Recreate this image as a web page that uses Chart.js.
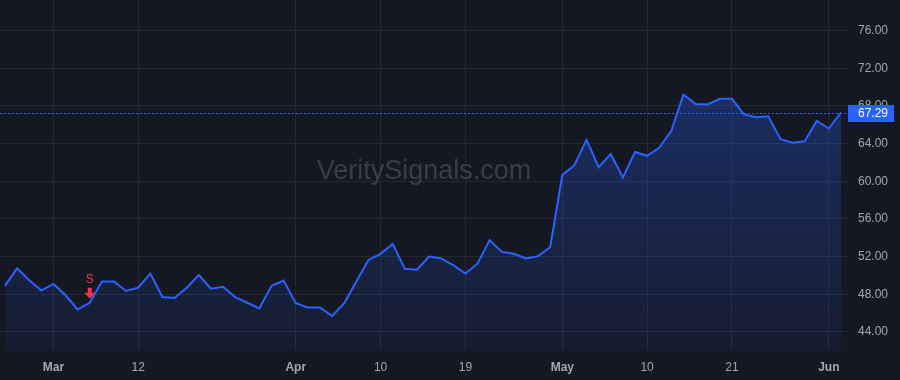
<!DOCTYPE html>
<html>
<head>
<meta charset="utf-8">
<script src="https://cdn.jsdelivr.net/npm/chart.js@4.4.1/dist/chart.umd.min.js"></script>
<style>
  html, body { margin: 0; padding: 0; background: #151822; }
  #wrap { width: 900px; height: 380px; position: relative; }
</style>
</head>
<body>
<div id="wrap"><canvas id="priceChart"></canvas></div>
<script>
  // trading days, Feb 26 - Jun 4 2024
  const dates = [
    '2024-02-26','2024-02-27','2024-02-28','2024-02-29',
    '2024-03-01','2024-03-04','2024-03-05','2024-03-06','2024-03-07','2024-03-08',
    '2024-03-11','2024-03-12','2024-03-13','2024-03-14','2024-03-15',
    '2024-03-18','2024-03-19','2024-03-20','2024-03-21','2024-03-22',
    '2024-03-25','2024-03-26','2024-03-27','2024-03-28',
    '2024-04-01','2024-04-02','2024-04-03','2024-04-04','2024-04-05',
    '2024-04-08','2024-04-09','2024-04-10','2024-04-11','2024-04-12',
    '2024-04-15','2024-04-16','2024-04-17','2024-04-18','2024-04-19',
    '2024-04-22','2024-04-23','2024-04-24','2024-04-25','2024-04-26',
    '2024-04-29','2024-04-30','2024-05-01','2024-05-02','2024-05-03',
    '2024-05-06','2024-05-07','2024-05-08','2024-05-09','2024-05-10',
    '2024-05-13','2024-05-14','2024-05-15','2024-05-16','2024-05-17',
    '2024-05-20','2024-05-21','2024-05-22','2024-05-23','2024-05-24',
    '2024-05-28','2024-05-29','2024-05-30','2024-05-31',
    '2024-06-03','2024-06-04'
  ];

  const prices = [
    48.9, 50.75, 49.5, 48.4,
    49.1, 47.9, 46.4, 47.1, 49.35,
    49.35, 48.35, 48.7, 50.2, 47.7,
    47.6, 48.7, 50.05, 48.6, 48.8,
    47.7, 47.1, 46.5, 48.9,
    49.45, 47.05, 46.6, 46.6, 45.7,
    47.05, 49.35, 51.65, 52.3, 53.35,
    50.7, 50.6, 52.0, 51.8, 51.1,
    50.2, 51.25, 53.75, 52.5, 52.3,
    51.8, 52.05, 53.0, 60.65, 61.7,
    64.4, 61.5, 62.9, 60.4, 63.1,
    62.7, 63.55, 65.35, 69.2, 68.2,
    68.15, 68.75, 68.75, 67.1, 66.8,
    66.9, 64.5, 64.1, 64.25, 66.4,
    65.6, 67.29
  ];

  const xTickDates = ['2024-03-01','2024-03-12','2024-04-01','2024-04-10','2024-04-19','2024-05-01','2024-05-10','2024-05-21','2024-06-03'];
  const xTickLabels = ['Mar','12','Apr','10','19','May','10','21','Jun'];
  const monthLabels = ['Mar','Apr','May','Jun'];
  const yTicks = [44, 48, 52, 56, 60, 64, 68, 72, 76];

  const signalDate = '2024-03-06';
  const signalText = 'S';
  const lastPrice = prices[prices.length - 1];

  const lineColor = '#2962ff';
  const font = '"Liberation Sans", Arial, sans-serif';

  const xTickIdx = xTickDates.map(d => dates.indexOf(d));

  // watermark, last price line + label, sell marker
  const overlay = {
    id: 'overlay',
    beforeDatasetsDraw(chart) {
      const { ctx } = chart;
      ctx.save();
      ctx.font = '27px ' + font;
      ctx.fillStyle = '#3a3d48';
      ctx.textAlign = 'center';
      ctx.textBaseline = 'middle';
      ctx.fillText('VeritySignals.com', 424, 172);
      ctx.restore();
    },
    afterDraw(chart) {
      const { ctx, chartArea, scales } = chart;
      const y = Math.round(scales.y.getPixelForValue(lastPrice));
      ctx.save();
      ctx.strokeStyle = lineColor;
      ctx.lineWidth = 1;
      ctx.setLineDash([2, 2]);
      ctx.beginPath();
      ctx.moveTo(chartArea.left, y + 0.5);
      ctx.lineTo(chartArea.right, y + 0.5);
      ctx.stroke();
      ctx.setLineDash([]);
      ctx.fillStyle = lineColor;
      ctx.fillRect(chartArea.right, y - 8, 46, 17);
      ctx.fillStyle = '#ffffff';
      ctx.font = '12px ' + font;
      ctx.textBaseline = 'middle';
      ctx.textAlign = 'left';
      ctx.fillText(lastPrice.toFixed(2), chartArea.right + 10, y + 1);

      // sell signal
      const i = dates.indexOf(signalDate);
      const sx = scales.x.getPixelForValue(i);
      const sy = scales.y.getPixelForValue(prices[i]);
      ctx.fillStyle = '#f23645';
      ctx.font = '12px ' + font;
      ctx.textAlign = 'center';
      ctx.fillText(signalText, sx, sy - 23);
      ctx.fillRect(sx - 2, sy - 15, 4, 6);
      ctx.beginPath();
      ctx.moveTo(sx - 5.5, sy - 10);
      ctx.lineTo(sx + 5.5, sy - 10);
      ctx.lineTo(sx, sy - 4);
      ctx.closePath();
      ctx.fill();
      ctx.restore();
    }
  };

  const noPad = s => { s.paddingTop = 0; s.paddingBottom = 0; s.paddingLeft = 0; s.paddingRight = 0; };

  const ctx = document.getElementById('priceChart').getContext('2d');
  const chart = new Chart(ctx, {
    type: 'line',
    data: {
      datasets: [{
        data: prices.map((v, i) => ({ x: i, y: v })),
        borderColor: lineColor,
        borderWidth: 2,
        pointRadius: 0,
        tension: 0,
        fill: 'start',
        backgroundColor: (c) => {
          const area = c.chart.chartArea;
          if (!area) return 'rgba(41,98,255,0.15)';
          const g = c.chart.ctx.createLinearGradient(0, area.top + 90, 0, area.bottom);
          g.addColorStop(0, 'rgba(41,98,255,0.3)');
          g.addColorStop(1, 'rgba(41,98,255,0.06)');
          return g;
        }
      }]
    },
    options: {
      responsive: true,
      maintainAspectRatio: false,
      animation: false,
      layout: { padding: 0 },
      plugins: { legend: { display: false }, tooltip: { enabled: false } },
      scales: {
        x: {
          type: 'linear',
          min: -0.41,
          max: 69.58,
          afterFit: s => { s.height = 29; noPad(s); },
          afterBuildTicks: s => { s.ticks = xTickIdx.map(v => ({ value: v })); },
          grid: { color: '#242833', drawTicks: false },
          border: { display: false },
          ticks: {
            autoSkip: false,
            maxRotation: 0,
            padding: 9,
            color: '#a3a6af',
            font: (c) => ({
              family: font,
              size: 12,
              weight: c.tick && monthLabels.includes(xTickLabels[xTickIdx.indexOf(c.tick.value)]) ? 'bold' : 'normal'
            }),
            callback: (v) => xTickLabels[xTickIdx.indexOf(v)]
          }
        },
        y: {
          position: 'right',
          min: 41.98,
          max: 79.24,
          afterFit: s => { s.width = 52; noPad(s); },
          afterBuildTicks: s => { s.ticks = yTicks.map(v => ({ value: v })); },
          grid: { color: '#242833', drawTicks: false },
          border: { display: false },
          ticks: {
            padding: 10,
            color: '#a3a6af',
            font: { family: font, size: 12 },
            callback: v => v.toFixed(2)
          }
        }
      }
    },
    plugins: [overlay]
  });
</script>
</body>
</html>
